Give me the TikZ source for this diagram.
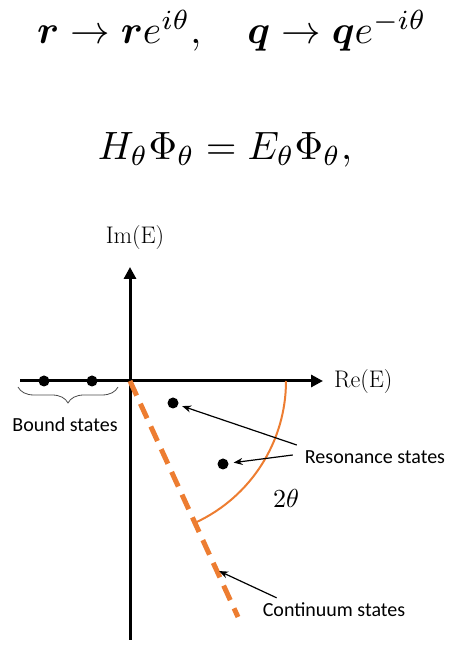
\documentclass[tikz,border=0pt]{standalone}
\usepackage{amsmath,amssymb}
\usepackage{graphicx}
\usepackage{fontspec}
\newfontfamily\calib{Carlito}
\usetikzlibrary{arrows.meta,calc,decorations.pathreplacing}
\definecolor{accorange}{RGB}{237,125,49}

\begin{document}
\begin{tikzpicture}[x=1pt,y=1pt]
  \tikzset{
    axis/.style={line width=3pt, -{Triangle[length=12pt,width=12pt]}},
    dot/.style={circle, fill=black, inner sep=0pt, minimum size=11pt},
    ptr/.style={-{Stealth[length=9pt,width=7pt]}, line width=1.2pt},
    tag/.style={font=\calib\fontsize{20}{24}\selectfont, inner sep=0pt},
    cdash/.style={accorange, line width=5pt, dash pattern=on 16pt off 9pt},
    axlbl/.style={font=\fontsize{24}{28}\selectfont, inner sep=0pt}
  }
  \useasboundingbox (0,0) rectangle (450,647);

  % Equations
  \node (eqa) at (232,616) {\scalebox{3.95}{$\boldsymbol{r}\to\boldsymbol{r}e^{i\theta},\quad \boldsymbol{q}\to\boldsymbol{q}e^{-i\theta}$}};
  \node (eqb) at (225,497) {\scalebox{3.95}{$H_\theta\Phi_\theta=E_\theta\Phi_\theta,$}};

  % Axes
  \coordinate (O) at (130,266);
  \coordinate (ybot) at (130,7);
  \coordinate (ytop) at (130,380);
  \coordinate (xleft) at (20,266);
  \coordinate (xright) at (323,266);
  \draw[axis] (ybot) -- (ytop);
  \draw[axis] (xleft) -- (xright);
  \node[axlbl] (imlbl) at (135,409) {Im(E)};
  \node[axlbl, anchor=west] (relbl) at (334,265) {Re(E)};

  % Rotated cut and angle
  \coordinate (cend) at (238,30);
  \draw[cdash] (O) -- (cend);
  \draw[accorange, line width=2pt] ($(O)+(156,0)$) arc[start angle=0, end angle=-65, radius=156];
  \node (ang) at (286,149) {\scalebox{2.6}{$2\theta$}};

  % States
  \node[dot] (b1) at (44,266) {};
  \node[dot] (b2) at (92,266) {};
  \node[dot] (r1) at (173,244) {};
  \node[dot] (r2) at (223,183) {};
  \draw[decorate, decoration={brace, amplitude=16pt, mirror}, line width=0.8pt, black!70] (18,260) -- (118,260);

  % Labels
  \node[tag] (boundlbl) at (65,222) {Bound states};
  \node[tag] (reslbl) at (375,190) {Resonance states};
  \node[tag] (contlbl) at (334,37) {Continuum states};
  \coordinate (cpt) at ($(O)!0.8!(cend)$);
  \draw[ptr, shorten >=4pt] ([shift={(-8,12)}]reslbl.west) -- (r1);
  \draw[ptr, shorten >=5pt] ([shift={(-12,2)}]reslbl.west) -- (r2);
  \draw[ptr, shorten >=3pt] ([shift={(14,5)}]contlbl.north west) -- (cpt);
\end{tikzpicture}
\end{document}
